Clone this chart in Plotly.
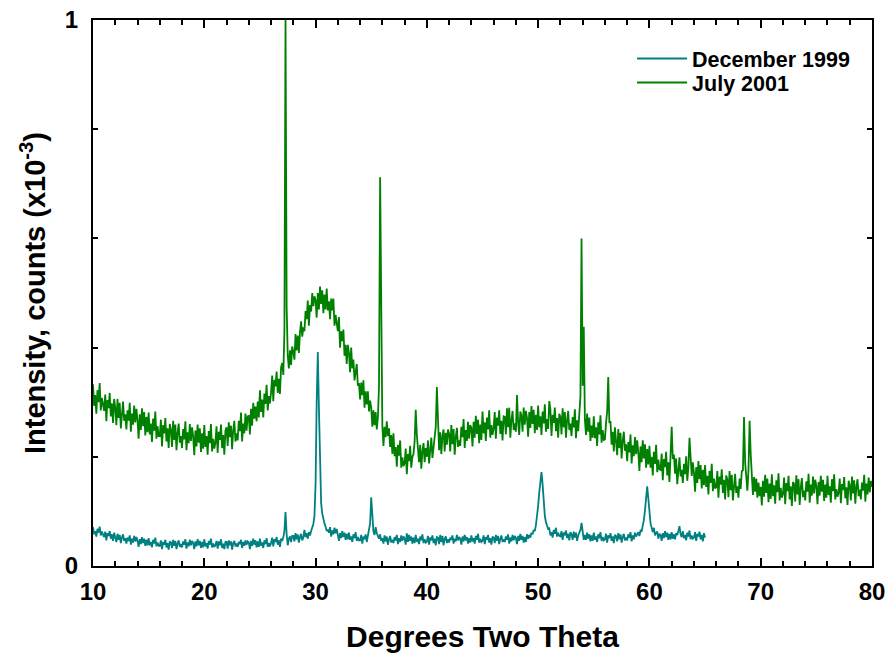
import plotly.graph_objects as go

# Scan grid (degrees two theta): start and step of the diffractometer scan
scan_start = 10.0
scan_step = 0.1

# December 1999 intensities (counts), 10.0 .. 65.0 deg, step 0.1
dec1999 = [
    71, 58, 64, 54, 68, 61, 72, 56, 63, 57,   # 10
    53, 63, 47, 60, 55, 64, 50, 58, 46, 61,   # 11
    54, 44, 59, 48, 57, 42, 52, 58, 46, 51,   # 12
    41, 52, 46, 56, 39, 50, 43, 55, 45, 53,   # 13
    46, 35, 49, 40, 53, 42, 50, 37, 48, 38,   # 14
    51, 38, 44, 34, 48, 41, 52, 36, 43, 37,   # 15
    37, 47, 31, 44, 39, 48, 34, 42, 30, 45,   # 16
    43, 33, 48, 37, 46, 31, 41, 47, 35, 40,   # 17
    34, 45, 39, 49, 32, 43, 36, 48, 38, 46,   # 18
    42, 31, 45, 36, 49, 38, 46, 33, 44, 34,   # 19
    49, 36, 42, 32, 46, 39, 50, 34, 41, 35,   # 20
    38, 46, 32, 45, 38, 49, 33, 41, 31, 44,   # 21
    44, 32, 47, 38, 45, 30, 42, 46, 36, 41,   # 22
    35, 44, 40, 48, 33, 44, 37, 47, 39, 45,   # 23
    43, 31, 46, 37, 50, 39, 47, 34, 45, 35,   # 24
    50, 37, 43, 33, 47, 40, 51, 35, 42, 36,   # 25
    42, 52, 36, 49, 44, 53, 39, 47, 35, 50,   # 26
    46, 52, 64, 99, 58, 38, 50, 54, 44, 55,   # 27
    55, 45, 60, 49, 58, 43, 53, 59, 47, 52,   # 28
    66, 53, 60, 50, 62, 56, 64, 70, 77, 92,   # 29
    150, 300, 392, 290, 165, 115, 96, 84, 78, 72,  # 30
    64, 67, 61, 71, 54, 65, 58, 70, 60, 68,   # 31
    57, 46, 60, 51, 64, 53, 61, 48, 59, 49,   # 32
    61, 48, 54, 44, 58, 51, 62, 46, 53, 47,   # 33
    47, 57, 41, 54, 49, 58, 44, 55, 62, 78,   # 34
    126, 88, 63, 57, 71, 60, 55, 50, 58, 46,  # 35
    51, 41, 56, 45, 54, 39, 49, 55, 43, 48,   # 36
    42, 53, 47, 57, 40, 51, 44, 56, 46, 54,   # 37
    50, 39, 60, 44, 57, 46, 54, 41, 52, 42,   # 38
    57, 44, 50, 40, 54, 47, 58, 42, 49, 43,   # 39
    45, 55, 39, 52, 47, 56, 42, 50, 38, 53,   # 40
    52, 40, 57, 44, 55, 38, 50, 54, 42, 49,   # 41
    43, 52, 48, 56, 41, 50, 45, 57, 47, 53,   # 42
    50, 39, 54, 45, 57, 47, 53, 41, 51, 43,   # 43
    56, 45, 51, 41, 55, 48, 59, 43, 50, 44,   # 44
    46, 56, 40, 53, 48, 57, 43, 51, 39, 54,   # 45
    52, 42, 57, 46, 55, 40, 50, 56, 44, 49,   # 46
    44, 54, 48, 58, 41, 52, 45, 57, 47, 55,   # 47
    51, 40, 55, 46, 59, 48, 55, 43, 53, 44,   # 48
    58, 50, 57, 52, 61, 58, 66, 64, 75, 90,   # 49
    110, 135, 160, 172, 150, 118, 92, 80, 74, 68,  # 50
    69, 56, 62, 52, 66, 59, 70, 54, 61, 55,   # 51
    54, 64, 48, 61, 56, 65, 51, 59, 47, 62,   # 52
    58, 48, 63, 52, 61, 46, 56, 62, 66, 79,   # 53
    64, 48, 57, 48, 61, 50, 58, 45, 56, 46,   # 54
    61, 48, 54, 44, 58, 51, 62, 46, 53, 47,   # 55
    49, 59, 43, 56, 51, 60, 46, 54, 42, 57,   # 56
    55, 45, 60, 49, 58, 43, 53, 59, 47, 52,   # 57
    47, 58, 52, 62, 45, 56, 49, 61, 54, 60,   # 58
    62, 55, 65, 64, 74, 84, 102, 128, 146, 124,  # 59
    96, 78, 70, 62, 70, 56, 61, 63, 50, 59,   # 60
    57, 46, 60, 51, 64, 53, 61, 48, 59, 49,   # 61
    62, 50, 58, 49, 60, 57, 64, 73, 58, 53,   # 62
    64, 51, 57, 47, 61, 54, 65, 49, 56, 50,   # 63
    52, 62, 46, 59, 54, 63, 49, 57, 45, 60,   # 64
    52,                                       # 65.0
]

# July 2001 intensities (counts), 10.0 .. 80.0 deg, step 0.1
jul2001 = [
    333, 293, 313, 279, 322, 300, 335, 285, 308, 290,   # 10
    284, 314, 265, 304, 289, 317, 274, 298, 262, 306,   # 11
    290, 258, 306, 271, 299, 252, 284, 301, 266, 278,   # 12
    250, 285, 266, 299, 246, 279, 259, 294, 263, 288,   # 13
    267, 233, 278, 249, 289, 256, 282, 239, 273, 245,   # 14
    281, 241, 261, 227, 270, 248, 283, 233, 256, 238,   # 15
    238, 268, 219, 258, 243, 271, 228, 252, 216, 260,   # 16
    250, 218, 266, 231, 259, 212, 244, 261, 226, 238,   # 17
    216, 251, 232, 265, 212, 245, 225, 260, 229, 254,   # 18
    237, 203, 248, 219, 259, 226, 252, 209, 243, 215,   # 19
    258, 218, 238, 204, 247, 225, 260, 210, 233, 215,   # 20
    226, 256, 207, 246, 231, 259, 216, 240, 204, 248,   # 21
    254, 220, 263, 236, 257, 214, 249, 266, 228, 243,   # 22
    230, 266, 247, 281, 228, 261, 243, 279, 248, 274,   # 23
    275, 241, 288, 257, 299, 270, 292, 265, 301, 272,   # 24
    322, 282, 305, 272, 316, 297, 332, 285, 311, 298,   # 25
    318, 349, 302, 341, 329, 356, 317, 343, 315, 364,   # 26
    372, 350, 430, 1000, 475, 385, 362, 395, 368, 402,  # 27
    392, 378, 425, 395, 422, 390, 428, 448, 420, 437,   # 28
    430, 467, 452, 486, 440, 478, 466, 500, 476, 494,   # 29
    487, 455, 500, 470, 512, 480, 505, 463, 497, 470,   # 30
    508, 468, 485, 452, 490, 468, 490, 440, 460, 438,   # 31
    430, 456, 400, 430, 412, 433, 385, 405, 370, 405,   # 32
    390, 355, 400, 362, 378, 340, 360, 370, 330, 335,   # 33
    305, 336, 313, 340, 290, 320, 296, 320, 283, 303,   # 34
    290, 255, 285, 258, 282, 250, 272, 330, 712, 380,   # 35
    258, 220, 255, 236, 265, 238, 252, 218, 240, 205,   # 36
    243, 201, 218, 182, 222, 202, 230, 180, 199, 183,   # 37
    188, 215, 168, 205, 192, 220, 180, 200, 205, 228,   # 38
    286, 240, 204, 190, 222, 178, 210, 225, 190, 216,   # 39
    200, 230, 188, 220, 235, 198, 222, 240, 255, 328,   # 40
    262, 212, 245, 205, 238, 250, 210, 244, 222, 250,   # 41
    242, 210, 258, 223, 251, 204, 236, 253, 218, 230,   # 42
    220, 255, 236, 269, 216, 249, 229, 264, 233, 258,   # 43
    253, 219, 264, 235, 275, 242, 268, 225, 259, 231,   # 44
    283, 243, 263, 229, 272, 250, 285, 235, 258, 240,   # 45
    252, 282, 233, 272, 257, 285, 242, 266, 230, 274,   # 46
    273, 241, 289, 254, 290, 235, 267, 284, 249, 261,   # 47
    246, 313, 262, 240, 283, 275, 246, 290, 259, 284,   # 48
    271, 237, 282, 253, 293, 260, 286, 243, 277, 249,   # 49
    294, 254, 274, 240, 283, 261, 296, 246, 269, 251,   # 50
    302, 287, 238, 277, 262, 290, 247, 271, 235, 279,   # 51
    273, 241, 289, 254, 282, 235, 267, 284, 249, 261,   # 52
    238, 273, 254, 287, 234, 267, 247, 282, 310, 600,   # 53
    330, 438, 268, 240, 279, 246, 272, 229, 257, 235,   # 54
    274, 234, 254, 220, 263, 241, 276, 226, 249, 231,   # 55
    232, 262, 282, 346, 262, 265, 222, 246, 210, 254,   # 56
    235, 203, 251, 216, 244, 197, 229, 246, 211, 223,   # 57
    192, 227, 208, 241, 188, 221, 201, 236, 205, 230,   # 58
    208, 174, 219, 190, 230, 197, 223, 180, 214, 186,   # 59
    220, 180, 200, 166, 209, 187, 222, 172, 195, 177,   # 60
    176, 206, 157, 196, 181, 209, 166, 190, 154, 205,   # 61
    255, 196, 204, 169, 197, 150, 182, 199, 164, 176,   # 62
    152, 187, 168, 201, 156, 181, 235, 196, 165, 190,   # 63
    170, 136, 181, 152, 192, 159, 185, 142, 176, 148,   # 64
    185, 145, 165, 131, 174, 152, 187, 137, 160, 142,   # 65
    144, 174, 125, 164, 149, 177, 134, 158, 122, 166,   # 66
    158, 126, 174, 139, 167, 120, 152, 169, 134, 146,   # 67
    125, 160, 141, 174, 175, 273, 190, 169, 138, 175,   # 68
    266, 205, 152, 130, 163, 136, 160, 125, 153, 128,   # 69
    145, 111, 156, 127, 167, 134, 160, 117, 151, 123,   # 70
    168, 128, 148, 114, 157, 135, 170, 120, 143, 125,   # 71
    132, 162, 113, 152, 137, 165, 122, 146, 110, 154,   # 72
    150, 118, 166, 131, 159, 112, 144, 161, 126, 138,   # 73
    120, 155, 136, 169, 116, 149, 129, 164, 133, 158,   # 74
    147, 113, 154, 129, 165, 136, 158, 119, 149, 125,   # 75
    165, 130, 146, 116, 159, 137, 168, 122, 141, 127,   # 76
    134, 160, 115, 150, 139, 163, 124, 144, 112, 156,   # 77
    148, 120, 164, 133, 157, 114, 146, 159, 128, 140,   # 78
    122, 153, 138, 167, 118, 151, 131, 162, 135, 156,   # 79
    145,                                                # 80.0
]

series_names = ["December 1999", "July 2001"]
series_colors = ["#008080", "#008000"]

x_ticks = [10, 20, 30, 40, 50, 60, 70, 80]
y_tickvals = [0, 1000]
y_ticktext = ["0", "1"]
y_minor = [200, 400, 600, 800]


def scan_axis(n):
    return [round(scan_start + scan_step * i, 1) for i in range(n)]


FONT = "Liberation Sans, Arial, sans-serif"

fig = go.Figure()
legend_ids = ["legend", "legend2"]
for name, color, vals, lg in zip(series_names, series_colors, [dec1999, jul2001], legend_ids):
    fig.add_trace(go.Scatter(
        x=scan_axis(len(vals)), y=vals, mode="lines", name=name, legend=lg,
        line=dict(color=color, width=1.8),
    ))

axis_common = dict(
    showline=True, linewidth=2, linecolor="black", mirror="ticks",
    ticks="inside", ticklen=8, tickwidth=2, tickcolor="black",
    showgrid=False, zeroline=False, automargin=False,
    tickfont=dict(family=FONT, size=24, color="black", weight="bold"),
)

legend_common = dict(
    xanchor="left", yanchor="top",
    font=dict(family=FONT, size=21.5, color="black", weight="bold"),
    bgcolor="rgba(0,0,0,0)", borderwidth=0, itemwidth=50,
)

fig.update_layout(
    width=889, height=656,
    margin=dict(l=93, r=17, t=20, b=90),
    paper_bgcolor="white", plot_bgcolor="white",
    showlegend=True,
    legend=dict(x=0.692, y=0.967, **legend_common),
    legend2=dict(x=0.692, y=0.923, **legend_common),
    xaxis=dict(
        range=[10, 80], tickmode="array", tickvals=x_ticks, ticklabelstandoff=3,
        minor=dict(dtick=2, tick0=10, ticks="inside", ticklen=5,
                   tickwidth=1.5, tickcolor="black"),
        title=dict(text="Degrees Two Theta", standoff=22,
                   font=dict(family=FONT, size=30, color="black", weight="bold")),
        **axis_common,
    ),
    yaxis=dict(
        range=[0, 1000], tickmode="array", tickvals=y_tickvals, ticktext=y_ticktext,
        ticklabelstandoff=8,
        minor=dict(tickmode="array", tickvals=y_minor, ticks="inside", ticklen=5,
                   tickwidth=1.5, tickcolor="black"),
        title=dict(text="Intensity, counts (x10<sup>-3</sup>)", standoff=11,
                   font=dict(family=FONT, size=29, color="black", weight="bold")),
        **axis_common,
    ),
)

fig.write_html("out.html")
